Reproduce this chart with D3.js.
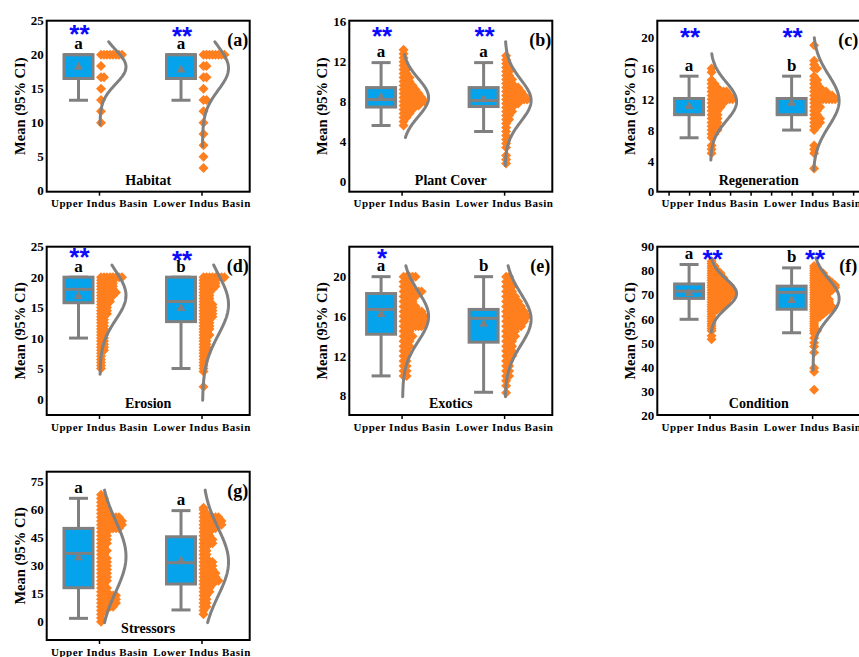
<!DOCTYPE html>
<html><head><meta charset="utf-8">
<script src="https://cdn.jsdelivr.net/npm/d3@7"></script>
<style>body{margin:0;background:#fff;overflow:hidden}</style>
</head><body>
<script>
const categories = ["Upper Indus Basin", "Lower Indus Basin"];
const panelNames = ["Habitat", "Plant Cover", "Regeneration", "Erosion", "Exotics", "Condition", "Stressors"];
const panelTags = ["(a)", "(b)", "(c)", "(d)", "(e)", "(f)", "(g)"];
const yDomains = [[-0.15, 25], [-1.03, 16.1], [0, 22.2], [-2.63, 25], [6.06, 23.02], [20, 90], [-9.8, 80.36]];
const yTickValues = [[0,5,10,15,20,25],[0,4,8,12,16],[0,4,8,12,16,20],[0,5,10,15,20,25],[8,12,16,20],[20,30,40,50,60,70,80,90],[0,15,30,45,60,75]];

// box stats per group: [whiskerLow, Q1, median, Q3, whiskerHigh, mean]  (Upper, Lower)
const habitatStats   = [[13.3, 16.5, 20, 20, 20, 18.3], [13.3, 16.5, 20, 20, 20, 17.9]];
const plantStats     = [[5.6, 7.45, 8.2, 9.4, 11.9, 8.5], [5.0, 7.5, 8.1, 9.4, 11.9, 8.3]];
const regenStats     = [[7, 10, 12.1, 12.1, 15, 11.2], [8, 10, 12.1, 12.1, 15, 11.6]];
const erosionStats   = [[10, 15.8, 18, 20, 20, 17], [5, 12.7, 16, 20, 20, 15]];
const exoticStats    = [[10, 14.2, 16.7, 18.3, 20, 16.3], [8.35, 13.4, 15.8, 16.7, 20, 15.3]];
const conditionStats = [[59.8, 68.5, 71.5, 74.5, 82.6, 71], [54.2, 64, 71, 73.6, 81.2, 68]];
const stressStats    = [[1.8, 18.2, 36.6, 50, 66.1, 34.8], [6.3, 20.2, 31.6, 45.5, 59.5, 33]];

// dot rows: [value, number of observations]
const habitatUpper = [[20,8],[18.33,1],[16.67,2],[15,1],[13.33,1],[11.67,1],[10,1]];
const habitatLower = [[20,8],[18.33,2],[16.67,2],[15,1],[13.33,2],[11.67,1],[10,1],[8.33,1],[6.67,1],[5,1],[3.33,1]];
const plantUpper = [[13.2,1],[12.8,1],[12.4,1],[12,1],[11.6,1],[11.2,2],[10.8,2],[10.4,3],[10,3],[9.6,4],[9.2,5],[8.8,6],[8.4,7],[8,8],[7.6,6],[7.2,4],[6.8,3],[6.4,2],[6,1],[5.6,1]];
const plantLower = [[12.6,1],[12.2,1],[11.8,1],[11.4,2],[11,2],[10.6,2],[10.2,3],[9.8,3],[9.4,5],[9,6],[8.6,7],[8.2,8],[7.8,5],[7.4,3],[7,3],[6.6,2],[6.2,2],[5.8,1],[5.4,1],[5,1],[4.6,1],[4.2,1],[3.8,1],[3.4,1],[2.6,1],[2.2,1],[1.8,1]];
const regenUpper = [[16,1],[15.5,1],[14.5,1],[14,2],[13.5,3],[13,6],[12.5,7],[12,8],[11.5,5],[11,4],[10.5,3],[10,3],[9.5,3],[9,3],[8.5,3],[8,3],[7.5,2],[7,1],[6,1],[5.5,1],[5,1]];
const regenLower = [[19,1],[17,1],[16.5,1],[16,2],[15,1],[14.5,2],[14,2],[13.5,3],[13,5],[12.5,7],[12,8],[11.5,2],[11,3],[10.5,2],[10,2],[9.5,3],[9,3],[8.5,2],[8,1],[6,1],[5.5,1],[5,1],[3,1]];
const erosionUpper = [[20,8],[19.5,5],[19,5],[18.5,5],[18,5],[17.5,6],[17,5],[16.5,4],[16,4],[15.5,3],[15,3],[14.5,3],[14,3],[13.5,2],[13,2],[12.5,2],[12,2],[11.5,2],[11,2],[10.5,2],[10,2],[9.5,2],[9,2],[8.5,2],[8,2],[7.5,1],[7,1],[6.5,1],[6,1],[5.5,1],[5,1]];
const erosionLower = [[20,8],[19.5,5],[19,5],[18.5,5],[18,4],[17.5,3],[17,3],[16.5,3],[16,3],[15.5,4],[15,4],[14.5,4],[14,4],[13.5,4],[13,3],[12.5,3],[12,3],[11.5,3],[11,2],[10.5,3],[10,2],[9.5,2],[9,2],[8.5,2],[8,2],[7.5,2],[7,1],[6.5,1],[6,1],[5.5,1],[5,1],[4.5,1],[2,1]];
const exoticUpper = [[20,5],[19.5,3],[19,3],[18.5,7],[18,5],[17.5,4],[17,5],[16.5,7],[16,8],[15.5,8],[15,7],[14.5,3],[14,4],[13.5,3],[13,3],[12.5,2],[12,2],[11.5,2],[11,2],[10.5,2],[10,2]];
const exoticLower = [[20,2],[19.5,2],[19,3],[18.5,3],[18,4],[17.5,5],[17,6],[16.5,7],[16,8],[15.5,7],[15,6],[14.5,4],[14,4],[13.5,3],[13,3],[12.5,3],[12,3],[11.5,2],[11,2],[10.5,2],[10,2],[9.5,1],[9,1],[8.3,1]];
const conditionUpper = [[84,1],[83,1],[82,2],[81,2],[80,3],[79,4],[78,4],[77,5],[76,5],[75,6],[74,7],[73,7],[72,8],[71,8],[70,8],[69,7],[68,6],[67,6],[66,5],[65,5],[64,3],[63,2],[62,1],[61,1],[60,1],[59,1],[58,1],[57,1],[56,1],[55,1],[53,1],[51.5,1]];
const conditionLower = [[82,1],[81,2],[80,2],[79,4],[78,4],[77,5],[76,6],[75,7],[74,8],[73,8],[72,7],[71,6],[70,5],[69,5],[68,6],[67,6],[66,6],[65,7],[64,6],[63,5],[62,4],[61,3],[60,2],[59,1],[58,1],[57,1],[56,1],[55,2],[54,1],[52,1],[50,1],[48.5,1],[46,1],[39.5,1],[38,1],[30.5,1]];
const stressUpper = [[68,1],[66,2],[64,2],[62,2],[60,3],[58,3],[56,7],[54,8],[52,8],[50,7],[48,3],[46,3],[44,3],[42,3],[40,2],[38,3],[36,2],[34,3],[32,3],[30,3],[28,3],[26,3],[24,3],[22,3],[20,2],[18,3],[16,3],[14,6],[12,6],[10,6],[8,5],[6,2],[4,1],[2,1],[0,1]];
const stressLower = [[61,1],[60,1],[58,2],[56,6],[54,7],[52,7],[50,5],[48,3],[46,3],[44,4],[42,4],[40,2],[38,2],[36,2],[34,2],[32,4],[30,4],[28,4],[26,5],[24,5],[22,6],[20,4],[18,3],[16,3],[14,2],[12,2],[10,2],[8,2],[6,1],[4,1]];

// normal curves: [mean, sd, from, to]
const habitatCurve   = [[18.2, 2.5, 9.7, 21.9], [18, 3.2, 6.5, 21.9]];
const plantCurve     = [[8.4, 1.9, 4.4, 12.7], [8.1, 2.1, 1.6, 14.0]];
const regenCurve     = [[11.7, 2.5, 4.1, 17.9], [11.8, 3.3, 2.8, 20.0]];
const erosionCurve   = [[17, 4, 4.05, 22], [15.5, 5, -0.2, 22]];
const exoticCurve    = [[16, 2.5, 7.9, 21.1], [15.7, 2.6, 7.9, 21.1]];
const conditionCurve = [[70.5, 6, 54.4, 85.1], [68.5, 8, 38.7, 85.4]];
const stressCurve    = [[35, 19, -0.5, 70.5], [32, 18, -0.5, 70.5]];

const groupLetters = [["a","a"],["a","a"],["a","b"],["a","b"],["a","b"],["a","b"],["a","a"]];
const groupStars   = [["**","**"],["**","**"],["**","**"],["**","**"],["*",""],["**","**"],["",""]];

const allStats  = [habitatStats, plantStats, regenStats, erosionStats, exoticStats, conditionStats, stressStats];
const allDots   = [[habitatUpper, habitatLower],[plantUpper, plantLower],[regenUpper, regenLower],[erosionUpper, erosionLower],[exoticUpper, exoticLower],[conditionUpper, conditionLower],[stressUpper, stressLower]];
const allCurves = [habitatCurve, plantCurve, regenCurve, erosionCurve, exoticCurve, conditionCurve, stressCurve];

// layout (pixels)
const frames = [
  {left:46.7, top:20.7, bottom:191.7, starOff:[10,12.3]},
  {left:349.3, top:20.7, bottom:191.7, starOff:[12.6,12.6]},
  {left:657.3, top:20.7, bottom:191.7, starOff:[13.6,13.6], minor:true},
  {left:46.7, top:246.7, bottom:415, starOff:[7.3,10]},
  {left:349.3, top:246.7, bottom:415, starOff:[8.3,8.3]},
  {left:657.3, top:246.7, bottom:415, starOff:[8.8,8.8], starAtCat:true},
  {left:46.7, top:471.7, bottom:640, starOff:[0,0]}
];
const FW = 203;
const GRAY = "#808080", BLUE = "#05a3ec", ORANGE = "#ff7f1e", STAR = "#0a0aff";
const serif = '"Liberation Serif","Times New Roman",serif';

const svg = d3.select("body").append("svg").attr("width", 859).attr("height", 657)
  .style("font-family", serif);

const diamond = "M0,-5L5,0L0,5L-5,0Z";

panelNames.forEach((name, pi) => {
  const f = frames[pi];
  const g = svg.append("g");
  const x = d3.scaleLinear().domain([0.49, 2.47]).range([f.left, f.left + FW]);
  const y = d3.scaleLinear().domain(yDomains[pi]).range([f.bottom, f.top]);

  // y axis labels
  const ya = g.append("g").attr("transform", `translate(${f.left},0)`)
    .call(d3.axisLeft(y).tickValues(yTickValues[pi]).tickSize(0).tickPadding(3));
  ya.select(".domain").remove();
  ya.selectAll("text").attr("font-family", serif).attr("font-weight", "bold")
    .attr("font-size", 13).attr("fill", "#000");

  // x axis
  const xa = g.append("g").attr("transform", `translate(0,${f.bottom})`)
    .call(d3.axisBottom(x).tickValues([1, 2]).tickFormat(d => categories[d - 1]).tickSize(4).tickPadding(4));
  xa.select(".domain").remove();
  xa.selectAll("line").attr("stroke", "#000").attr("stroke-width", 1.5);
  xa.selectAll("text").attr("font-family", serif).attr("font-weight", "bold")
    .attr("font-size", 11).attr("letter-spacing", "0.5px").attr("fill", "#000");
  if (f.minor) {
    const mv = d3.range(0.6, 2.45, 0.2);
    const xm = g.append("g").attr("transform", `translate(0,${f.bottom})`)
      .call(d3.axisBottom(x).tickValues(mv).tickFormat("").tickSize(4));
    xm.select(".domain").remove();
    xm.selectAll("line").attr("stroke", "#000").attr("stroke-width", 1.5);
  }

  // y title
  g.append("text").attr("transform", `translate(${f.left - 27},${(f.top + f.bottom) / 2}) rotate(-90)`)
    .attr("text-anchor", "middle").attr("dy", "0.35em")
    .attr("font-weight", "bold").attr("font-size", 14.5).text("Mean (95% CI)");

  [0, 1].forEach(gi => {
    const cat = x(gi + 1);
    const cx = cat - 20.5;
    const [lo, q1, med, q3, hi, mean] = allStats[pi][gi];
    // whiskers
    g.append("line").attr("x1", cx).attr("x2", cx).attr("y1", y(lo)).attr("y2", y(hi))
      .attr("stroke", GRAY).attr("stroke-width", 3);
    [lo, hi].forEach(v => g.append("line").attr("x1", cx - 9.5).attr("x2", cx + 9.5)
      .attr("y1", y(v)).attr("y2", y(v)).attr("stroke", GRAY).attr("stroke-width", 3));
    // box
    g.append("rect").attr("x", cx - 14.5).attr("width", 29).attr("y", y(q3)).attr("height", y(q1) - y(q3))
      .attr("fill", BLUE).attr("stroke", GRAY).attr("stroke-width", 3);
    g.append("line").attr("x1", cx - 14.5).attr("x2", cx + 14.5).attr("y1", y(med)).attr("y2", y(med))
      .attr("stroke", GRAY).attr("stroke-width", 3);
    const my = y(mean);
    g.append("path").attr("d", `M${cx},${my - 4.5}L${cx + 4.5},${my + 3.5}L${cx - 4.5},${my + 3.5}Z`).attr("fill", GRAY);

    // dots
    const pts = [];
    allDots[pi][gi].forEach(([v, n]) => { for (let j = 0; j < n; j++) pts.push([cat + 2 + j * 3, y(v)]); });
    g.append("g").selectAll("path").data(pts).join("path")
      .attr("d", diamond).attr("transform", d => `translate(${d[0]},${d[1]})`).attr("fill", ORANGE);

    // normal curve
    const [m, s, a, b] = allCurves[pi][gi];
    const vs = d3.range(0, 101).map(k => a + (b - a) * k / 100);
    const line = d3.line().x(v => cat + 1 + 26 * Math.exp(-((v - m) ** 2) / (2 * s * s))).y(v => y(v));
    g.append("path").attr("d", line(vs)).attr("fill", "none").attr("stroke", GRAY)
      .attr("stroke-width", 3).attr("stroke-linecap", "round");

    // letters and stars
    g.append("text").attr("x", cx).attr("y", y(hi) - 5.5).attr("text-anchor", "middle")
      .attr("font-weight", "bold").attr("font-size", 17).text(groupLetters[pi][gi]);
    const st = groupStars[pi][gi];
    if (st) {
      const sx = f.starAtCat ? cat + 3 : cx + 1;
      g.append("text").attr("x", sx).attr("y", f.top + f.starOff[gi] + 12).attr("text-anchor", "middle")
        .attr("font-family", '"Liberation Sans",Arial,sans-serif').attr("font-weight", "bold")
        .attr("font-size", 26).attr("fill", STAR).text(st);
    }
  });

  // panel name and tag
  g.append("text").attr("x", f.left + FW / 2).attr("y", f.bottom - 7).attr("text-anchor", "middle")
    .attr("font-weight", "bold").attr("font-size", 14).text(name);
  g.append("text").attr("x", f.left + FW - 12).attr("y", f.top + 25).attr("text-anchor", "middle")
    .attr("font-weight", "bold").attr("font-size", 18).text(panelTags[pi]);

  // frame
  g.append("rect").attr("x", f.left).attr("y", f.top).attr("width", FW).attr("height", f.bottom - f.top)
    .attr("fill", "none").attr("stroke", "#000").attr("stroke-width", 2);
});
</script>
</body></html>
